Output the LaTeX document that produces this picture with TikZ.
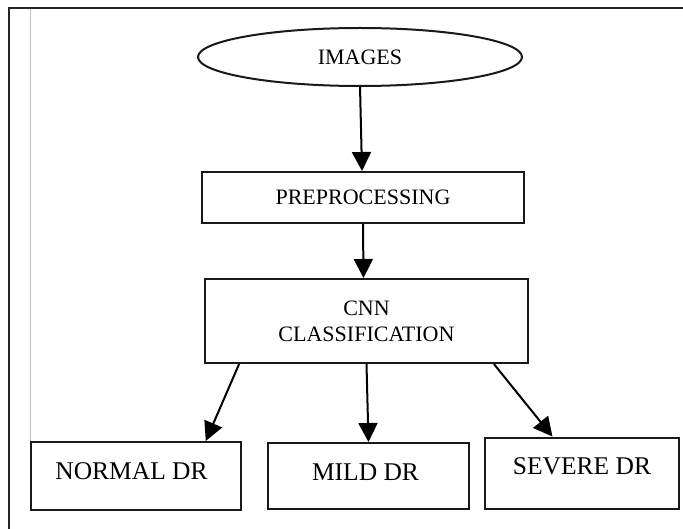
\documentclass[tikz,border=0pt]{standalone}
\usepackage{fontspec}
\setmainfont{Liberation Serif}
\usetikzlibrary{shapes.geometric,arrows.meta,calc}
\begin{document}
\begin{tikzpicture}[x=1pt,y=-1pt,
  topfont/.style={font=\fontsize{22}{26}\selectfont},
  botfont/.style={font=\fontsize{25.5}{30}\selectfont},
  boxnode/.style={draw=black!90, line width=2pt, rectangle, inner sep=0pt},
  ovalnode/.style={draw=black!90, line width=2pt, ellipse, inner sep=0pt},
  flow/.style={draw=black, line width=2pt, -{Triangle[length=19pt,width=19pt]}}
]
\useasboundingbox (0,0) rectangle (683,529);
% frame
\draw[line width=2pt, black!85] (9,529) -- (9,8) -- (683,8);
\draw[line width=0.8pt, black!25] (30,9) -- (30,442);
% nodes
\node[ovalnode, topfont, minimum width=324pt, minimum height=58pt] (img) at (360,57) {\raisebox{-3pt}{IMAGES}};
\node[boxnode, topfont, minimum width=322pt, minimum height=51pt] (pre) at (363,197.5) {\raisebox{-2.5pt}{PREPROCESSING}};
\node[boxnode, topfont, align=center, minimum width=323pt, minimum height=84pt] (cnn) at (366.5,321) {CNN\\CLASSIFICATION};
\node[boxnode, minimum width=210pt, minimum height=68pt,
  label={[botfont, inner sep=0pt, xshift=-4.5pt, yshift=4.5pt]center:NORMAL DR}] (normal) at (136,476) {};
\node[boxnode, minimum width=201pt, minimum height=66pt,
  label={[botfont, inner sep=0pt, xshift=-3pt, yshift=4pt]center:MILD DR}] (mild) at (368.5,476) {};
\node[boxnode, line width=2.8pt, minimum width=194pt, minimum height=71pt,
  label={[botfont, inner sep=0pt, yshift=7.5pt]center:SEVERE DR}] (severe) at (582,473.5) {};
% connectors
\draw[flow] ($(img.south)+(0,-1)$) -- ($(pre.north)+(-1,0)$);
\draw[flow] (pre.south) -- ($(cnn.north)+(-3,0)$);
\draw[flow] ($(cnn.south west)!0.108!(cnn.south east)$) -- ($(normal.north west)!0.829!(normal.north east)$);
\draw[flow] (cnn.south) -- (mild.north);
\draw[flow] ($(cnn.south west)!0.892!(cnn.south east)$) -- ($(severe.north west)!0.35!(severe.north east)$);
\end{tikzpicture}
\end{document}
